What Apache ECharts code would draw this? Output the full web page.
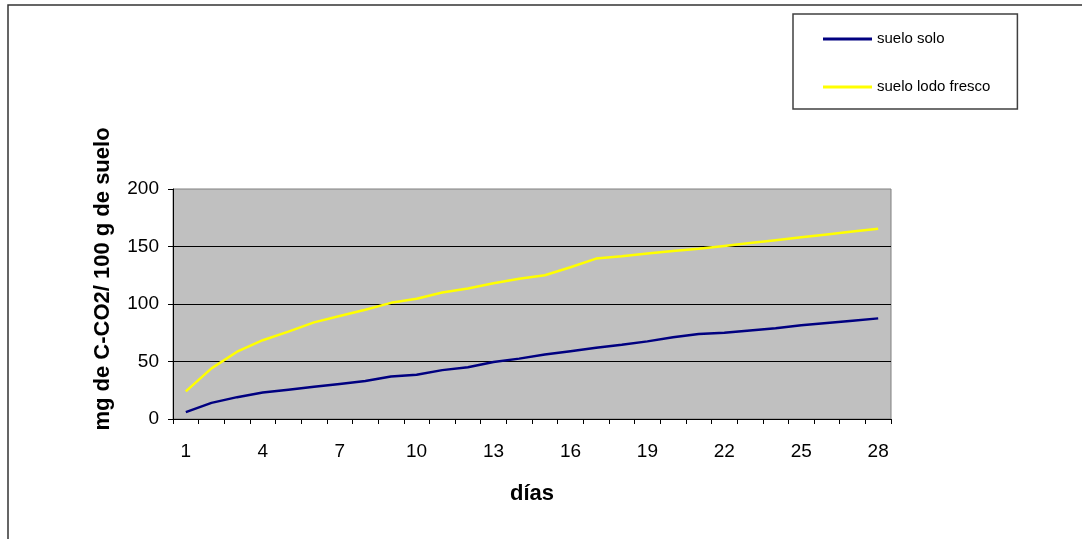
<!DOCTYPE html>
<html>
<head>
<meta charset="utf-8">
<script src="https://cdn.jsdelivr.net/npm/echarts@6/dist/echarts.min.js"></script>
<style>
  html, body { margin: 0; padding: 0; background: #fff; }
  #chart { width: 1082px; height: 539px; }
</style>
</head>
<body>
<div id="chart"></div>
<script>
// Days of incubation
const days = ['1','2','3','4','5','6','7','8','9','10','11','12','13','14',
              '15','16','17','18','19','20','21','22','23','24','25','26','27','28'];

// Cumulative C-CO2 released (mg / 100 g soil)
const sueloSolo = [6, 14, 19, 23, 25.5, 28, 30.5, 33, 37, 38.5, 42.5, 45, 49.5, 52.5,
                   56, 59, 62, 64.5, 67.5, 71, 74, 75, 77, 79, 81.5, 83.5, 85.5, 87.5];
const sueloLodoFresco = [24, 44, 58.5, 68.5, 76, 84, 89.5, 95, 101, 104.5, 110, 113.5, 118, 122,
                         125, 132, 139.5, 141.5, 144, 146, 148, 150.5, 153, 155.5, 158, 160.5, 163, 165.5];

const seriesNames = ['suelo solo', 'suelo lodo fresco'];
const yAxisTitle = 'mg de C-CO2/ 100 g de suelo';
const xAxisTitle = 'días';

const FONT = "'Liberation Sans', Arial, sans-serif";

const chart = echarts.init(document.getElementById('chart'));

chart.setOption({
  animation: false,
  backgroundColor: '#ffffff',
  textStyle: { fontFamily: FONT },
  grid: {
    left: 173, right: 191, top: 189, bottom: 120,
    show: true,
    backgroundColor: '#c0c0c0',
    borderColor: '#808080',
    borderWidth: 1
  },
  legend: {
    orient: 'vertical',
    left: 793, top: 14,
    padding: [17, 27, 14, 30],
    borderColor: '#404040',
    borderWidth: 1.5,
    icon: 'rect',
    itemWidth: 49,
    itemHeight: 3,
    itemGap: 32,
    textStyle: { fontFamily: FONT, fontSize: 15, color: '#000', lineHeight: 16 },
    data: seriesNames
  },
  xAxis: {
    type: 'category',
    data: days,
    boundaryGap: true,
    name: xAxisTitle,
    nameLocation: 'middle',
    nameGap: 64,
    nameTextStyle: { fontFamily: FONT, fontSize: 22, fontWeight: 'bold', color: '#000' },
    axisLine: { lineStyle: { color: '#000', width: 1 } },
    axisTick: { show: true, interval: 0, length: 5, lineStyle: { color: '#000' } },
    axisLabel: { interval: 2, margin: 23, fontSize: 19, color: '#000', fontFamily: FONT },
    splitLine: { show: false }
  },
  yAxis: {
    type: 'value',
    min: 0, max: 200, interval: 50,
    axisLine: { show: true, lineStyle: { color: '#000', width: 1 } },
    axisTick: { show: true, length: 5, lineStyle: { color: '#000' } },
    axisLabel: { margin: 14, fontSize: 19, color: '#000', fontFamily: FONT },
    splitLine: { show: true, showMinLine: false, showMaxLine: false, lineStyle: { color: '#000', width: 1 } }
  },
  graphic: [
    {
      // outer chart frame
      type: 'rect',
      shape: { x: 8, y: 5, width: 1200, height: 700 },
      style: { fill: 'none', stroke: '#333', lineWidth: 1.5 },
      silent: true
    },
    {
      type: 'text',
      x: 103, y: 279,
      rotation: Math.PI / 2,
      style: {
        text: yAxisTitle,
        font: "bold 22px 'Liberation Sans', Arial, sans-serif",
        fill: '#000',
        align: 'center',
        verticalAlign: 'middle'
      }
    }
  ],
  series: [
    {
      name: seriesNames[0],
      type: 'line',
      data: sueloSolo,
      symbol: 'none',
      color: '#000080',
      lineStyle: { color: '#000080', width: 2.5 }
    },
    {
      name: seriesNames[1],
      type: 'line',
      data: sueloLodoFresco,
      symbol: 'none',
      color: '#ffff00',
      lineStyle: { color: '#ffff00', width: 2.5 }
    }
  ]
});
</script>
</body>
</html>
